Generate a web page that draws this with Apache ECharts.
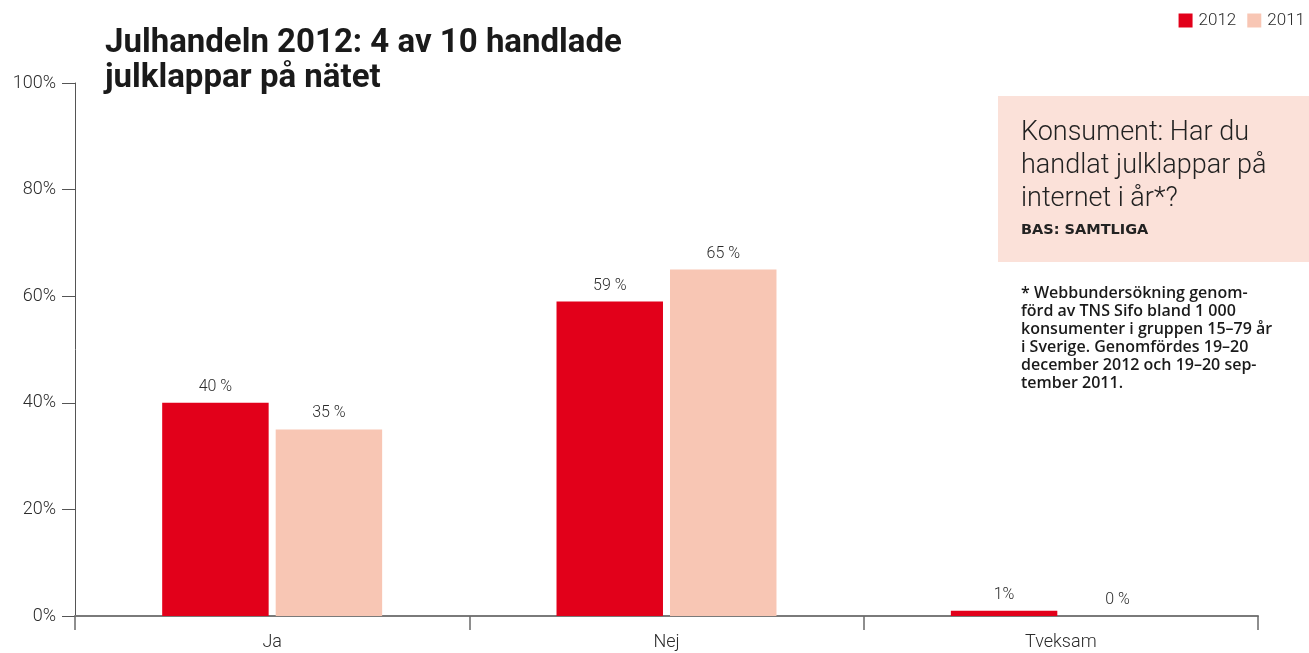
<!DOCTYPE html>
<html>
<head>
<meta charset="utf-8">
<title>Julhandeln 2012</title>
<script src="https://cdn.jsdelivr.net/npm/echarts@6/dist/echarts.min.js"></script>
<style>
  html, body { margin: 0; padding: 0; background: #ffffff; }
  #chart { width: 1309px; height: 653px; }
</style>
</head>
<body>
<div id="chart"></div>
<script>
// Svar på frågan "Har du handlat julklappar på internet i år?"
const categories = ['Ja', 'Nej', 'Tveksam'];
const values2012 = [40, 59, 1];
const values2011 = [35, 65, 0];
const yTickLabels = ['0%', '20%', '40%', '60%', '80%', '100%'];
// Etiketter som skrivs ovanför staplarna
const labels2012 = ['40 %', '59 %', '1%'];
const labels2011 = ['35 %', '65 %', '0 %'];

const RED = '#e2001a';
const PINK = '#f8c6b4';
const FONT = 'Roboto, "Noto Sans", sans-serif';
const TEXT = '#2b2b2b';

const chart = echarts.init(document.getElementById('chart'), null, { renderer: 'canvas' });

const labelStyle = {
  show: true,
  position: 'top',
  distance: 8,
  fontFamily: FONT,
  fontWeight: 300,
  fontSize: 16,
  color: TEXT
};

chart.setOption({
  backgroundColor: '#ffffff',
  animation: false,
  title: {
    text: 'Julhandeln 2012: 4 av 10 handlade\njulklappar på nätet',
    left: 100,
    top: 21,
    textStyle: {
      fontFamily: FONT,
      fontWeight: 'bold',
      fontSize: 33,
      lineHeight: 35,
      color: '#1a1a1a'
    }
  },
  legend: {
    right: 4,
    top: 12,
    padding: 0,
    icon: 'rect',
    itemWidth: 14,
    itemHeight: 14,
    itemGap: 11,
    textStyle: { fontFamily: FONT, fontWeight: 300, fontSize: 17, color: TEXT, padding: [0, 0, 0, 1] },
    data: ['2012', '2011']
  },
  grid: {
    left: 75,
    right: 51,
    top: 83,
    bottom: 37,
    containLabel: false
  },
  xAxis: {
    type: 'category',
    data: categories,
    axisLine: { show: true, lineStyle: { color: '#7a7a7a', width: 2 } },
    axisTick: { show: true, length: 14, interval: 0, lineStyle: { color: '#6a6a6a', width: 1.5 } },
    axisLabel: { fontFamily: FONT, fontWeight: 300, fontSize: 18, color: TEXT, margin: 17 }
  },
  yAxis: {
    type: 'value',
    min: 0,
    max: 100,
    interval: 20,
    splitLine: { show: false },
    axisLine: { show: true, lineStyle: { color: '#555', width: 1 } },
    axisTick: { show: true, length: 13, lineStyle: { color: '#555', width: 1 } },
    axisLabel: {
      fontFamily: FONT,
      fontWeight: 300,
      fontSize: 18,
      color: TEXT,
      margin: 19,
      formatter: (v) => yTickLabels[v / 20]
    }
  },
  series: [
    {
      name: '2012',
      type: 'bar',
      data: values2012,
      barWidth: '27%',
      barGap: '6.6%',
      itemStyle: { color: RED },
      label: Object.assign({}, labelStyle, {
        formatter: (p) => labels2012[p.dataIndex]
      })
    },
    {
      name: '2011',
      type: 'bar',
      data: values2011,
      barWidth: '27%',
      itemStyle: { color: PINK },
      label: Object.assign({}, labelStyle, {
        formatter: (p) => labels2011[p.dataIndex]
      })
    }
  ],
  graphic: [
    {
      type: 'rect',
      left: 998,
      top: 96,
      shape: { width: 311, height: 166 },
      style: { fill: '#fbe1d9' },
      z: 1
    },
    {
      type: 'text',
      left: 1021,
      top: 117,
      z: 2,
      style: {
        text: 'Konsument: Har du\nhandlat julklappar på\ninternet i år*?',
        fontFamily: FONT,
        fontWeight: 300,
        fontSize: 27,
        lineHeight: 33,
        fill: '#222'
      }
    },
    {
      type: 'text',
      left: 1021,
      top: 223,
      z: 2,
      style: {
        text: 'BAS: SAMTLIGA',
        fontFamily: '"DejaVu Sans", sans-serif',
        fontWeight: 'bold',
        fontSize: 14.5,
        fill: '#222'
      }
    },
    {
      type: 'text',
      left: 1021,
      top: 284,
      z: 2,
      style: {
        text: '* Webbundersökning genom-\nförd av TNS Sifo bland 1 000\nkonsumenter i gruppen 15–79 år\ni Sverige. Genomfördes 19–20\ndecember 2012 och 19–20 sep-\ntember 2011.',
        fontFamily: '"Open Sans", sans-serif',
        fontWeight: 600,
        fontSize: 16,
        lineHeight: 18,
        fill: '#1a1a1a'
      }
    }
  ]
});
</script>
</body>
</html>
